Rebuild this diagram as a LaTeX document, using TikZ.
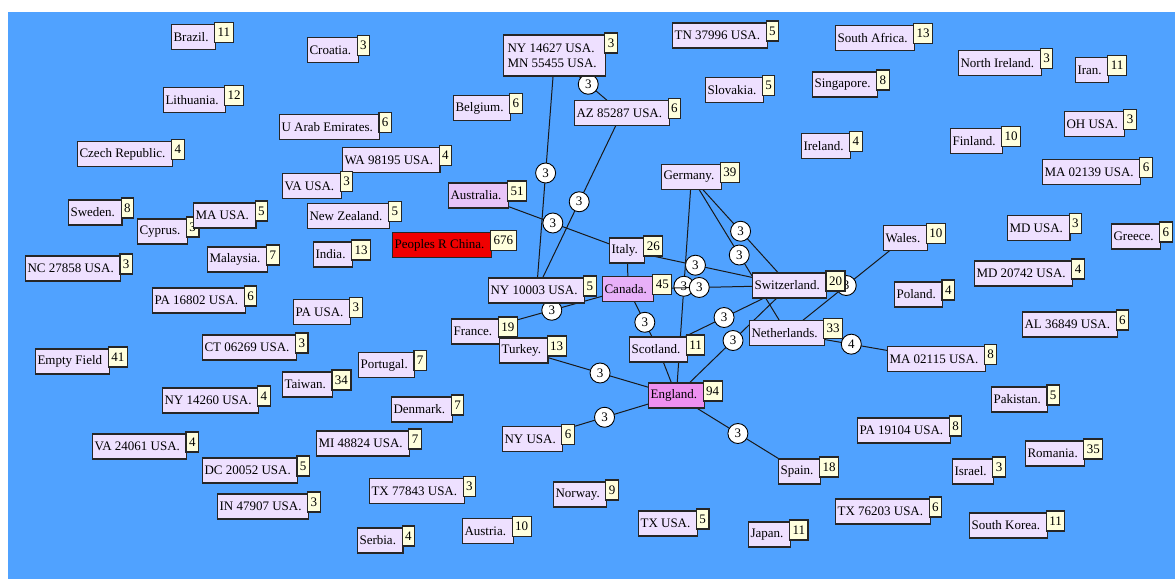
\documentclass[tikz,border=0pt]{standalone}
\usepackage{fontspec}
\setmainfont{Liberation Serif}
\usetikzlibrary{positioning, backgrounds}
\definecolor{bgblue}{HTML}{50A2FF}
\definecolor{lblfill}{HTML}{EEE0FF}
\definecolor{cntfill}{HTML}{FFFFDD}
\definecolor{engviolet}{HTML}{EE90F0}
\definecolor{canviolet}{HTML}{E8B0F8}
\definecolor{ausviolet}{HTML}{E8C4F8}
\definecolor{chinared}{HTML}{F00000}

\begin{document}
\begin{tikzpicture}[
  x=1pt, y=-1pt,
  lbl/.style={draw=black!85, line width=1.1pt, fill=lblfill, anchor=west, minimum height=25pt, inner ysep=0pt, inner xsep=0pt, font=\fontsize{13}{15}\selectfont, execute at begin node=\kern2pt, execute at end node=\kern7pt},
  cnt/.style={draw=black!85, line width=1.1pt, fill=cntfill, anchor=north west, minimum height=20pt, inner ysep=0pt, inner xsep=3pt, font=\fontsize{13}{15}\selectfont},
  wt/.style={circle, draw=black, line width=0.9pt, fill=white, minimum size=20pt, inner sep=0pt, font=\fontsize{13}{15}\selectfont},
  lnk/.style={draw=black!90, line width=1pt},
]
  \useasboundingbox (0,0) rectangle (1175,579);

  % countries and institutions
  \node[lbl] (brazil) at (171,37) {Brazil.};
  \node[cnt] (brazil-n) at ([shift={(-2pt,2pt)}]brazil.north east) {11};
  \node[lbl] (croatia) at (307,50) {Croatia.};
  \node[cnt] (croatia-n) at ([shift={(-2pt,2pt)}]croatia.north east) {3};
  \node[lbl, align=left, inner xsep=2pt, minimum height=41pt, execute at begin node={}, execute at end node={}] (nymn) at (503,55.5) {NY 14627 USA.\\MN 55455 USA.};
  \node[cnt] (nymn-n) at ([shift={(-2pt,2pt)}]nymn.north east) {3};
  \node[lbl] (tn) at (672,35.5) {TN 37996 USA.};
  \node[cnt] (tn-n) at ([shift={(-2pt,2pt)}]tn.north east) {5};
  \node[lbl] (safrica) at (835,38) {South Africa.};
  \node[cnt] (safrica-n) at ([shift={(-2pt,2pt)}]safrica.north east) {13};
  \node[lbl] (nireland) at (958,63) {North Ireland.};
  \node[cnt] (nireland-n) at ([shift={(-2pt,2pt)}]nireland.north east) {3};
  \node[lbl] (iran) at (1075,70) {Iran.};
  \node[cnt] (iran-n) at ([shift={(-2pt,2pt)}]iran.north east) {11};
  \node[lbl] (singapore) at (812,84.5) {Singapore.};
  \node[cnt] (singapore-n) at ([shift={(-2pt,2pt)}]singapore.north east) {8};
  \node[lbl] (slovakia) at (705,90) {Slovakia.};
  \node[cnt] (slovakia-n) at ([shift={(-2pt,2pt)}]slovakia.north east) {5};
  \node[lbl] (lithuania) at (163,100) {Lithuania.};
  \node[cnt] (lithuania-n) at ([shift={(-2pt,2pt)}]lithuania.north east) {12};
  \node[lbl] (czech) at (77,154) {Czech Republic.};
  \node[cnt] (czech-n) at ([shift={(-2pt,2pt)}]czech.north east) {4};
  \node[lbl] (uae) at (279,127) {U Arab Emirates.};
  \node[cnt] (uae-n) at ([shift={(-2pt,2pt)}]uae.north east) {6};
  \node[lbl] (belgium) at (453,108) {Belgium.};
  \node[cnt] (belgium-n) at ([shift={(-2pt,2pt)}]belgium.north east) {6};
  \node[lbl] (az) at (574,113) {AZ 85287 USA.};
  \node[cnt] (az-n) at ([shift={(-2pt,2pt)}]az.north east) {6};
  \node[lbl] (wa) at (342,160) {WA 98195 USA.};
  \node[cnt] (wa-n) at ([shift={(-2pt,2pt)}]wa.north east) {4};
  \node[lbl] (vausa) at (282,186) {VA USA.};
  \node[cnt] (vausa-n) at ([shift={(-2pt,2pt)}]vausa.north east) {3};
  \node[lbl] (ireland) at (801,146) {Ireland.};
  \node[cnt] (ireland-n) at ([shift={(-2pt,2pt)}]ireland.north east) {4};
  \node[lbl] (finland) at (950,141) {Finland.};
  \node[cnt] (finland-n) at ([shift={(-2pt,2pt)}]finland.north east) {10};
  \node[lbl] (ohusa) at (1064,124) {OH USA.};
  \node[cnt] (ohusa-n) at ([shift={(-2pt,2pt)}]ohusa.north east) {3};
  \node[lbl] (ma02139) at (1042,172) {MA 02139 USA.};
  \node[cnt] (ma02139-n) at ([shift={(-2pt,2pt)}]ma02139.north east) {6};
  \node[lbl] (germany) at (661,177) {Germany.};
  \node[cnt] (germany-n) at ([shift={(-2pt,2pt)}]germany.north east) {39};
  \node[lbl, fill=ausviolet] (australia) at (448,195.5) {Australia.};
  \node[cnt] (australia-n) at ([shift={(-2pt,2pt)}]australia.north east) {51};
  \node[lbl] (sweden) at (68,212.5) {Sweden.};
  \node[cnt] (sweden-n) at ([shift={(-2pt,2pt)}]sweden.north east) {8};
  \node[lbl] (cyprus) at (137,231.5) {Cyprus.};
  \node[cnt] (cyprus-n) at ([shift={(-2pt,2pt)}]cyprus.north east) {3};
  \node[lbl] (mausa) at (193,215.5) {MA USA.};
  \node[cnt] (mausa-n) at ([shift={(-2pt,2pt)}]mausa.north east) {5};
  \node[lbl] (nzealand) at (307,216) {New Zealand.};
  \node[cnt] (nzealand-n) at ([shift={(-2pt,2pt)}]nzealand.north east) {5};
  \node[lbl, fill=chinared] (china) at (392,245) {Peoples R China.};
  \node[cnt] (china-n) at ([shift={(-2pt,2pt)}]china.north east) {676};
  \node[lbl] (india) at (313,254.5) {India.};
  \node[cnt] (india-n) at ([shift={(-2pt,2pt)}]india.north east) {13};
  \node[lbl] (italy) at (609,250.5) {Italy.};
  \node[cnt] (italy-n) at ([shift={(-2pt,2pt)}]italy.north east) {26};
  \node[lbl] (malaysia) at (207,259.5) {Malaysia.};
  \node[cnt] (malaysia-n) at ([shift={(-2pt,2pt)}]malaysia.north east) {7};
  \node[lbl] (nc) at (25,268.5) {NC 27858 USA.};
  \node[cnt] (nc-n) at ([shift={(-2pt,2pt)}]nc.north east) {3};
  \node[lbl] (wales) at (883,238) {Wales.};
  \node[cnt] (wales-n) at ([shift={(-2pt,2pt)}]wales.north east) {10};
  \node[lbl] (mdusa) at (1007,228) {MD USA.};
  \node[cnt] (mdusa-n) at ([shift={(-2pt,2pt)}]mdusa.north east) {3};
  \node[lbl] (greece) at (1111,236.5) {Greece.};
  \node[cnt] (greece-n) at ([shift={(-2pt,2pt)}]greece.north east) {6};
  \node[lbl] (md20742) at (974,273.5) {MD 20742 USA.};
  \node[cnt] (md20742-n) at ([shift={(-2pt,2pt)}]md20742.north east) {4};
  \node[lbl] (poland) at (894,294.5) {Poland.};
  \node[cnt] (poland-n) at ([shift={(-2pt,2pt)}]poland.north east) {4};
  \node[lbl] (al) at (1022,324.5) {AL 36849 USA.};
  \node[cnt] (al-n) at ([shift={(-2pt,2pt)}]al.north east) {6};
  \node[lbl] (ma02115) at (887,359) {MA 02115 USA.};
  \node[cnt] (ma02115-n) at ([shift={(-2pt,2pt)}]ma02115.north east) {8};
  \node[lbl] (ny10003) at (488,290.5) {NY 10003 USA.};
  \node[cnt] (ny10003-n) at ([shift={(-2pt,2pt)}]ny10003.north east) {5};
  \node[lbl, fill=canviolet] (canada) at (602,289) {Canada.};
  \node[cnt] (canada-n) at ([shift={(-2pt,2pt)}]canada.north east) {45};
  \node[lbl] (switzerland) at (752,285.5) {Switzerland.};
  \node[cnt] (switzerland-n) at ([shift={(-2pt,2pt)}]switzerland.north east) {20};
  \node[lbl] (netherlands) at (749,333) {Netherlands.};
  \node[cnt] (netherlands-n) at ([shift={(-2pt,2pt)}]netherlands.north east) {33};
  \node[lbl] (pa16802) at (152,300.5) {PA 16802 USA.};
  \node[cnt] (pa16802-n) at ([shift={(-2pt,2pt)}]pa16802.north east) {6};
  \node[lbl] (pausa) at (293,312) {PA USA.};
  \node[cnt] (pausa-n) at ([shift={(-2pt,2pt)}]pausa.north east) {3};
  \node[lbl] (france) at (451,331.5) {France.};
  \node[cnt] (france-n) at ([shift={(-2pt,2pt)}]france.north east) {19};
  \node[lbl] (turkey) at (499,350.5) {Turkey.};
  \node[cnt] (turkey-n) at ([shift={(-2pt,2pt)}]turkey.north east) {13};
  \node[lbl] (scotland) at (629,349.5) {Scotland.};
  \node[cnt] (scotland-n) at ([shift={(-2pt,2pt)}]scotland.north east) {11};
  \node[lbl] (ct) at (202,347.5) {CT 06269 USA.};
  \node[cnt] (ct-n) at ([shift={(-2pt,2pt)}]ct.north east) {3};
  \node[lbl] (empty) at (35,361.5) {Empty Field};
  \node[cnt] (empty-n) at ([shift={(-2pt,2pt)}]empty.north east) {41};
  \node[lbl] (portugal) at (358,365) {Portugal.};
  \node[cnt] (portugal-n) at ([shift={(-2pt,2pt)}]portugal.north east) {7};
  \node[lbl] (taiwan) at (282,384.5) {Taiwan.};
  \node[cnt] (taiwan-n) at ([shift={(-2pt,2pt)}]taiwan.north east) {34};
  \node[lbl] (ny14260) at (162,400.5) {NY 14260 USA.};
  \node[cnt] (ny14260-n) at ([shift={(-2pt,2pt)}]ny14260.north east) {4};
  \node[lbl, fill=engviolet] (england) at (648,395.5) {England.};
  \node[cnt] (england-n) at ([shift={(-2pt,2pt)}]england.north east) {94};
  \node[lbl] (pakistan) at (991,399.5) {Pakistan.};
  \node[cnt] (pakistan-n) at ([shift={(-2pt,2pt)}]pakistan.north east) {5};
  \node[lbl] (denmark) at (391,409.5) {Denmark.};
  \node[cnt] (denmark-n) at ([shift={(-2pt,2pt)}]denmark.north east) {7};
  \node[lbl] (pa19104) at (857,430.5) {PA 19104 USA.};
  \node[cnt] (pa19104-n) at ([shift={(-2pt,2pt)}]pa19104.north east) {8};
  \node[lbl] (mi) at (316,443.5) {MI 48824 USA.};
  \node[cnt] (mi-n) at ([shift={(-2pt,2pt)}]mi.north east) {7};
  \node[lbl] (nyusa) at (502,439) {NY USA.};
  \node[cnt] (nyusa-n) at ([shift={(-2pt,2pt)}]nyusa.north east) {6};
  \node[lbl] (va24061) at (92,446.5) {VA 24061 USA.};
  \node[cnt] (va24061-n) at ([shift={(-2pt,2pt)}]va24061.north east) {4};
  \node[lbl] (romania) at (1025,453.5) {Romania.};
  \node[cnt] (romania-n) at ([shift={(-2pt,2pt)}]romania.north east) {35};
  \node[lbl] (dc) at (202,470.5) {DC 20052 USA.};
  \node[cnt] (dc-n) at ([shift={(-2pt,2pt)}]dc.north east) {5};
  \node[lbl] (spain) at (778,471.5) {Spain.};
  \node[cnt] (spain-n) at ([shift={(-2pt,2pt)}]spain.north east) {18};
  \node[lbl] (israel) at (952,471.5) {Israel.};
  \node[cnt] (israel-n) at ([shift={(-2pt,2pt)}]israel.north east) {3};
  \node[lbl] (tx77843) at (369,491) {TX 77843 USA.};
  \node[cnt] (tx77843-n) at ([shift={(-2pt,2pt)}]tx77843.north east) {3};
  \node[lbl] (in) at (217,506.5) {IN 47907 USA.};
  \node[cnt] (in-n) at ([shift={(-2pt,2pt)}]in.north east) {3};
  \node[lbl] (norway) at (553,494.5) {Norway.};
  \node[cnt] (norway-n) at ([shift={(-2pt,2pt)}]norway.north east) {9};
  \node[lbl] (tx76203) at (835,511.5) {TX 76203 USA.};
  \node[cnt] (tx76203-n) at ([shift={(-2pt,2pt)}]tx76203.north east) {6};
  \node[lbl] (austria) at (462,531) {Austria.};
  \node[cnt] (austria-n) at ([shift={(-2pt,2pt)}]austria.north east) {10};
  \node[lbl] (txusa) at (638,523.5) {TX USA.};
  \node[cnt] (txusa-n) at ([shift={(-2pt,2pt)}]txusa.north east) {5};
  \node[lbl] (skorea) at (969,525.5) {South Korea.};
  \node[cnt] (skorea-n) at ([shift={(-2pt,2pt)}]skorea.north east) {11};
  \node[lbl] (japan) at (748,534.5) {Japan.};
  \node[cnt] (japan-n) at ([shift={(-2pt,2pt)}]japan.north east) {11};
  \node[lbl] (serbia) at (357,540.5) {Serbia.};
  \node[cnt] (serbia-n) at ([shift={(-2pt,2pt)}]serbia.north east) {4};

  % links, behind the boxes
  \begin{scope}[on background layer]
    \fill[bgblue] (8,12) rectangle (1175,579);
    \draw[lnk] (nymn.center) -- node[wt] (w1) {3} (ny10003.center);
    \draw[lnk] (nymn.center) -- node[wt] (w2) {3} (az.center);
    \draw[lnk] (az.center) -- node[wt] (w3) {3} (ny10003.center);
    \draw[lnk] (australia.center) -- node[wt] (w4) {3} (italy.center);
    \draw[lnk] (italy.center) -- node[wt, pos=0.42] (w5) {3} (switzerland.center);
    \draw[lnk] (germany.center) -- node[wt] (w6) {3} (switzerland.center);
    \draw[lnk] (germany.center) -- node[wt] (w7) {3} (netherlands.center);
    \draw[lnk] (germany.center) -- node[wt] (w8) {3} (england.center);
    \draw[lnk] (canada.center) -- node[wt, pos=0.44] (w9) {3} (switzerland.center);
    \draw[lnk] (france.center) -- node[wt] (w10) {3} (canada.center);
    \draw[lnk] (canada.center) -- node[wt, pos=0.55] (w11) {3} (scotland.center);
    \draw[lnk] (italy.center) -- (canada.center);
    \draw[lnk] (scotland.center) -- (england.center);
    \draw[lnk] (switzerland.center) -- node[wt] (w12) {3} (scotland.center);
    \draw[lnk] (switzerland.center) -- node[wt] (w13) {3} (england.center);
    \draw[lnk] (netherlands.center) -- node[wt] (w14) {3} (wales.center);
    \draw[lnk] (netherlands.center) -- node[wt, pos=0.43] (w15) {4} (ma02115.center);
    \draw[lnk] (turkey.center) -- node[wt] (w16) {3} (england.center);
    \draw[lnk] (nyusa.center) -- node[wt] (w17) {3} (england.center);
    \draw[lnk] (england.center) -- node[wt] (w18) {3} (spain.center);
  \end{scope}
\end{tikzpicture}
\end{document}
